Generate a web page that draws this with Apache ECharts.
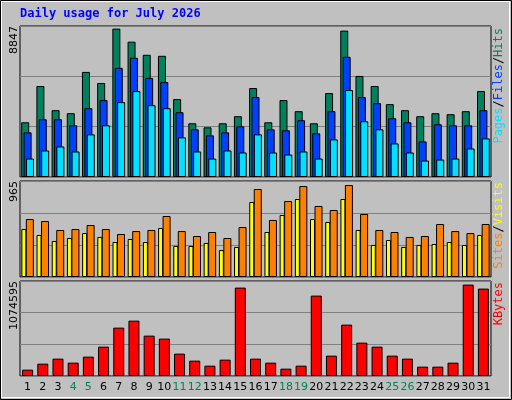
<!DOCTYPE html>
<html><head><meta charset="utf-8">
<script src="https://cdn.jsdelivr.net/npm/echarts@6/dist/echarts.min.js"></script>
<style>html,body{margin:0;padding:0;background:#C0C0C0}#c{width:512px;height:400px}</style>
</head><body><div id="c"></div>
<script>
const days = Array.from({length:31},(_,i)=>String(i+1));
const weekends = ['4','5','11','12','18','19','25','26'];
const hits = [3263,5425,3984,3804,6266,5606,8847,8068,7287,7227,4645,3203,2963,3203,3624,5305,3263,4585,3924,3203,5005,8729,6026,5425,4344,3984,3624,3804,3744,3924,5125];
const files = [2663,3443,3443,3083,4104,4585,6507,7107,5906,5666,3864,2843,2482,2663,3023,4765,2843,2783,3383,2603,3924,7167,4765,4404,3504,3263,2122,3143,3083,3083,3984];
const pages = [1101,1582,1822,1522,2543,3083,4464,5125,4284,4104,2362,1522,1101,1582,1461,2543,1461,1341,1522,1101,2242,5185,3323,2843,2002,1461,981,1041,1101,1702,2302];
const visits = [503,441,378,409,461,420,367,399,367,514,325,325,357,283,315,787,472,650,818,608,577,818,493,336,388,315,336,346,367,336,441];
const sites = [608,587,493,503,545,503,451,482,493,640,482,430,472,409,524,923,598,797,954,745,703,965,661,493,472,420,430,556,482,461,556];
const kbytes = [74516,145110,203939,156876,227470,345127,568676,651035,474550,439253,262767,180407,121579,192173,1039304,203939,156876,86282,121579,945178,239236,603973,392190,345127,239236,203939,109813,109813,156876,1074595,1027538];
const topMax=Math.max(...hits), midMax=Math.max(...sites), botMax=Math.max(...kbytes);
const m1=topMax*150/147.4, m2=midMax*96/92, m3=botMax*95/91.4;
const grids=[{left:20,right:21,top:26,height:151},{left:20,right:21,top:181,height:96},{left:20,right:21,top:281,height:95}]
  .map(g=>Object.assign(g,{show:true,backgroundColor:'#C0C0C0',borderColor:'#000',borderWidth:1}));
const xa=[0,1,2].map(i=>({type:'category',gridIndex:i,data:days,boundaryGap:true,
  axisLine:{show:false},axisTick:{show:false},
  axisLabel:{show:i===2,fontFamily:'DejaVu Sans',fontSize:11,margin:6,interval:0,
    color:(v)=>weekends.includes(v)?'#00805C':'#000'}}));
const ya=[m1,m2,m3].map((m,i)=>({type:'value',gridIndex:i,min:0,max:m,interval:m/3,
  axisLabel:{show:false},axisLine:{show:false},axisTick:{show:false},
  splitLine:{lineStyle:{color:'#808080',width:1}}}));
const bs={borderColor:'#000',borderWidth:1};
const series=[
 {type:'bar',xAxisIndex:0,yAxisIndex:0,data:hits,barWidth:8,barGap:'-70%',itemStyle:Object.assign({color:'#00805C'},bs)},
 {type:'bar',xAxisIndex:0,yAxisIndex:0,data:files,barWidth:8,barGap:'-70%',itemStyle:Object.assign({color:'#0040FF'},bs)},
 {type:'bar',xAxisIndex:0,yAxisIndex:0,data:pages,barWidth:8,barGap:'-70%',itemStyle:Object.assign({color:'#00E0FF'},bs)},
 {type:'bar',xAxisIndex:1,yAxisIndex:1,data:visits,barWidth:5,barGap:'-10%',itemStyle:Object.assign({color:'#FFFF00'},bs)},
 {type:'bar',xAxisIndex:1,yAxisIndex:1,data:sites,barWidth:8,barGap:'-10%',itemStyle:Object.assign({color:'#FF8000'},bs)},
 {type:'bar',xAxisIndex:2,yAxisIndex:2,data:kbytes,barWidth:11,itemStyle:Object.assign({color:'#FF0000'},bs)}
];
const vt=(x,y,rich,text)=>({type:'text',x:x,y:y,rotation:Math.PI/2,style:{text:text,rich:rich,font:'12px "DejaVu Sans Mono"',align:'right',verticalAlign:'middle'}});
const graphic=[
 {type:'rect',shape:{x:0.5,y:0.5,width:511,height:399},style:{fill:'none',stroke:'#000',lineWidth:1}},
 {type:'rect',shape:{x:1.5,y:1.5,width:508,height:396},style:{fill:'none',stroke:'#fff',lineWidth:1}},
 {type:'text',left:20,top:8,style:{text:'Daily usage for July 2026',font:'bold 12px "DejaVu Sans Mono"',fill:'#0000FF'}},
 {type:'text',x:14,y:26,rotation:Math.PI/2,style:{text:String(topMax),font:'11px "DejaVu Sans"',fill:'#000',align:'right',verticalAlign:'middle'}},
 {type:'text',x:14,y:181,rotation:Math.PI/2,style:{text:String(midMax),font:'11px "DejaVu Sans"',fill:'#000',align:'right',verticalAlign:'middle'}},
 {type:'text',x:14,y:281,rotation:Math.PI/2,style:{text:String(botMax),font:'11px "DejaVu Sans"',fill:'#000',align:'right',verticalAlign:'middle'}},
 vt(499,28,{a:{fill:'#00E0FF'},b:{fill:'#0040FF'},c:{fill:'#00805C'},k:{fill:'#000'}},'{a|Pages}{k|/}{b|Files}{k|/}{c|Hits}'),
 vt(499,182,{a:{fill:'#FF8000'},b:{fill:'#FFFF00'},k:{fill:'#000'}},'{a|Sites}{k|/}{b|Visits}'),
 vt(499,282,{a:{fill:'#FF0000'}},'{a|KBytes}')
];
const ch=echarts.init(document.getElementById('c'));
ch.setOption({animation:false,backgroundColor:'#C0C0C0',grid:grids,xAxis:xa,yAxis:ya,series:series,graphic:graphic});
</script></body></html>
